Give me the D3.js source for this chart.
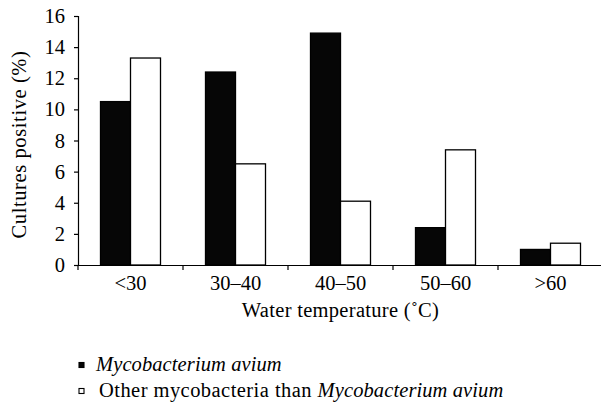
<!DOCTYPE html>
<html>
<head>
<meta charset="utf-8">
<script src="https://cdn.jsdelivr.net/npm/d3@7"></script>
<style>
  body { margin: 0; background: #fff; }
  svg { display: block; }
  svg text { font-family: "Liberation Serif", "Times New Roman", Times, serif; fill: #000; }
</style>
</head>
<body>
<svg id="chart" width="601" height="404"></svg>
<script>
//

const categories = ['<30', '30–40', '40–50', '50–60', '>60']
const series = ['avium', 'other']
const aviumValues = [10.5, 12.4, 14.9, 2.4, 1.0]
const otherValues = [13.3, 6.5, 4.1, 7.4, 1.4]
const yTicks = [0, 2, 4, 6, 8, 10, 12, 14, 16]

const fills = { avium: '#060606', other: '#ffffff' }

//

const svg = d3.select('#chart')

const x0 = d3.scaleBand()
  .domain(categories)
  .range([78, 603])
  .padding(0)

const x1 = d3.scaleBand()
  .domain(series)
  .range([0, x0.bandwidth()])
  .paddingInner(0)
  .paddingOuter(0.75)

const y = d3.scaleLinear()
  .domain([0, 16])
  .range([265, 16])

const rows = categories.map((c, i) => ({
  cat: c,
  values: [
    { key: 'avium', value: aviumValues[i] },
    { key: 'other', value: otherValues[i] }
  ]
}))

// bars
svg.append('g')
  .selectAll('g')
  .data(rows)
  .join('g')
  .attr('transform', (d) => `translate(${x0(d.cat)},0)`)
  .selectAll('rect')
  .data((d) => d.values)
  .join('rect')
  .attr('x', (d) => x1(d.key))
  .attr('y', (d) => y(d.value))
  .attr('width', x1.bandwidth())
  .attr('height', (d) => y(0) - y(d.value))
  .attr('fill', (d) => fills[d.key])
  .attr('stroke', '#000')
  .attr('stroke-width', 1.3)

// y axis
const yAxis = svg.append('g')
  .attr('transform', 'translate(78,0)')
  .call(d3.axisLeft(y).tickValues(yTicks).tickSize(4).tickPadding(9))
yAxis.attr('font-family', null).attr('font-size', null)
yAxis.select('.domain').attr('stroke', '#000').attr('stroke-width', 1.2)
yAxis.selectAll('.tick line').attr('stroke', '#000').attr('stroke-width', 1.2)
yAxis.selectAll('.tick text')
  .attr('font-size', 20.5)
  .attr('fill', '#000')

// x axis (labels at band centers)
const xAxis = svg.append('g')
  .attr('transform', 'translate(0,265)')
  .call(d3.axisBottom(x0).tickSizeInner(0).tickSizeOuter(0).tickPadding(10.5))
xAxis.attr('font-family', null).attr('font-size', null)
xAxis.select('.domain').attr('stroke', '#000').attr('stroke-width', 1.2)
xAxis.selectAll('.tick text')
  .attr('font-size', 20.5)
  .attr('fill', '#000')

// x ticks at band boundaries
const bounds = categories.map((c) => x0(c)).concat([x0.range()[1]])
xAxis.selectAll('line.bound')
  .data(bounds)
  .join('line')
  .attr('class', 'bound')
  .attr('x1', (d) => d)
  .attr('x2', (d) => d)
  .attr('y1', 0)
  .attr('y2', 5)
  .attr('stroke', '#000')
  .attr('stroke-width', 1.2)

// axis titles
svg.append('text')
  .attr('x', (x0.range()[0] + x0.range()[1]) / 2)
  .attr('y', 317)
  .attr('text-anchor', 'middle')
  .attr('font-size', 20.5)
  .attr('letter-spacing', 0.3)
  .text('Water temperature (˚C)')

svg.append('text')
  .attr('transform', `translate(26,${(y(0) + y(16)) / 2 + 4}) rotate(-90)`)
  .attr('text-anchor', 'middle')
  .attr('font-size', 20.5)
  .attr('letter-spacing', 0.6)
  .text('Cultures positive (%)')

// legend
const legend = svg.append('g')
const legendRows = [
  { key: 'avium', y: 365, parts: [{ t: 'Mycobacterium avium', i: true }] },
  { key: 'other', y: 391, parts: [{ t: 'Other mycobacteria than ', i: false }, { t: 'Mycobacterium avium', i: true }] }
]
legendRows.forEach((r) => {
  legend.append('rect')
    .attr('x', 79)
    .attr('y', r.y - 2.5)
    .attr('width', 5)
    .attr('height', 5)
    .attr('fill', fills[r.key])
    .attr('stroke', '#000')
    .attr('stroke-width', 1.1)
  const t = legend.append('text')
    .attr('x', r.key === 'avium' ? 96 : 99)
    .attr('y', r.y + 6)
    .attr('font-size', 20.5)
  t.selectAll('tspan')
    .data(r.parts)
    .join('tspan')
    .attr('font-style', (d) => d.i ? 'italic' : 'normal')
    .attr('letter-spacing', (d) => d.i ? 0.1 : 0.45)
    .text((d) => d.t)
})
</script>
</body>
</html>
